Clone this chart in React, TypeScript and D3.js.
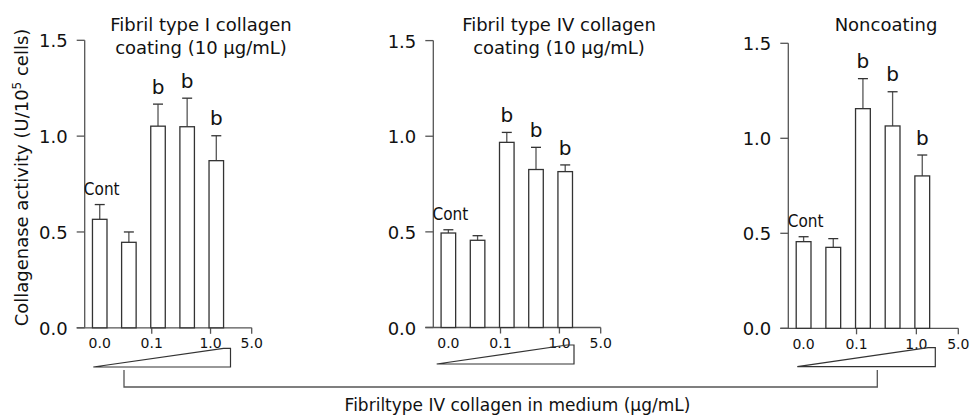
import React from "react";
import * as d3 from "d3";

// ---- data ----
const categories = ["0.0", "0.01", "0.1", "0.5", "1.0"];
const xTickLabels = ["0.0", "0.1", "1.0", "5.0"];
const yTicks = [0, 0.5, 1.0, 1.5];

const typeIMeans = [0.566, 0.446, 1.052, 1.049, 0.872];
const typeIErr = [0.077, 0.054, 0.115, 0.149, 0.13];
const typeIVMeans = [0.494, 0.456, 0.968, 0.826, 0.815];
const typeIVErr = [0.017, 0.024, 0.052, 0.116, 0.035];
const noncoatMeans = [0.456, 0.426, 1.156, 1.065, 0.802];
const noncoatErr = [0.026, 0.046, 0.158, 0.18, 0.11];
const sigLabels = ["", "", "b", "b", "b"];

const panelTitles = [
  ["Fibril type I collagen", "coating (10 \u03bcg/mL)"],
  ["Fibril type IV collagen", "coating (10 \u03bcg/mL)"],
  ["Noncoating"],
];
const xAxisTitle = "Fibriltype IV collagen in medium (\u03bcg/mL)";

const FONT = "'DejaVu Sans', Verdana, sans-serif";
const NARROW = "'Liberation Sans Narrow', 'DejaVu Sans Condensed', sans-serif";
const AX = "#555";
const BAR = "#333";

interface Layout {
  axisX: number;
  w: number;
  y0: number;
  yTop: number;
  titleX: number;
  wedgeL: number;
  wedgeR: number;
  wedgeB: number;
  wedgeT: number;
}

const layouts: Layout[] = [
  { axisX: 84.7, w: 167, y0: 327.8, yTop: 40.3, titleX: 201, wedgeL: 93.3, wedgeR: 230.5, wedgeB: 367, wedgeT: 348.3 },
  { axisX: 433.3, w: 167.4, y0: 327.5, yTop: 40.6, titleX: 559, wedgeL: 436.7, wedgeR: 574, wedgeB: 364, wedgeT: 345 },
  { axisX: 788.3, w: 170, y0: 328.3, yTop: 43.3, titleX: 886, wedgeL: 797.3, wedgeR: 935.3, wedgeB: 366.7, wedgeT: 347.7 },
];

function Panel({ lay, means, errs, title }: { lay: Layout; means: number[]; errs: number[]; title: string[] }) {
  const y = d3.scaleLinear().domain([0, 1.5]).range([lay.y0, lay.yTop]);
  const x = d3
    .scalePoint<string>()
    .domain(categories)
    .range([lay.axisX + 0.09 * lay.w, lay.axisX + 0.788 * lay.w]);
  const bw = 0.087 * lay.w;
  const cap = 5;
  const xEnd = lay.axisX + lay.w;
  const tickPos = [
    { label: xTickLabels[0], x: x(categories[0])!, mark: false },
    { label: xTickLabels[1], x: x(categories[2])! - bw / 2 + 1, mark: true },
    { label: xTickLabels[2], x: x(categories[4])! - bw / 2 + 1.5, mark: true },
    { label: xTickLabels[3], x: xEnd, mark: true },
  ];
  return (
    <g>
      {title.map((t, i) => (
        <text key={i} x={lay.titleX} y={30.7 + i * 23.6} fontSize={18} textAnchor="middle" fontFamily={FONT} fill="#111">
          {t}
        </text>
      ))}
      <line x1={lay.axisX} x2={lay.axisX} y1={y(1.5)} y2={y(0)} stroke={AX} strokeWidth={1.3} />
      {yTicks.map((t) => (
        <g key={t}>
          <line x1={lay.axisX - 8} x2={lay.axisX} y1={y(t)} y2={y(t)} stroke={AX} strokeWidth={1.3} />
          <text x={lay.axisX - 17} y={y(t) + 7} fontSize={18} textAnchor="end" fontFamily={FONT} fill="#111">
            {t.toFixed(1)}
          </text>
        </g>
      ))}
      <line x1={lay.axisX - 8} x2={xEnd} y1={y(0)} y2={y(0)} stroke={AX} strokeWidth={1.3} />
      {tickPos.map((t) => (
        <g key={t.label}>
          {t.mark && <line x1={t.x} x2={t.x} y1={y(0)} y2={y(0) + 6} stroke={AX} strokeWidth={1.3} />}
          <text x={t.x} y={y(0) + 20.5} fontSize={14} textAnchor="middle" fontFamily={FONT} fill="#111">
            {t.label}
          </text>
        </g>
      ))}
      {categories.map((c, i) => {
        const cx = x(c)!;
        const top = y(means[i] + errs[i]);
        return (
          <g key={c}>
            <line x1={cx} x2={cx} y1={y(means[i])} y2={top} stroke={AX} strokeWidth={1.3} />
            <line x1={cx - cap} x2={cx + cap} y1={top} y2={top} stroke={BAR} strokeWidth={1.3} />
            <rect x={cx - bw / 2} y={y(means[i])} width={bw} height={y(0) - y(means[i])} fill="#fff" stroke={BAR} strokeWidth={1.3} />
            {sigLabels[i] && (
              <text x={cx} y={top - 10.4} fontSize={20} textAnchor="middle" fontFamily={FONT} fill="#111">
                {sigLabels[i]}
              </text>
            )}
            {i === 0 && (
              <text x={cx + 2} y={top - 9.5} fontSize={17} textAnchor="middle" fontFamily={NARROW} fill="#111">
                Cont
              </text>
            )}
          </g>
        );
      })}
      <path
        d={`M${lay.wedgeL},${lay.wedgeB}L${lay.wedgeR - 7},${lay.wedgeT}L${lay.wedgeR},${lay.wedgeT}L${lay.wedgeR},${lay.wedgeB}Z`}
        fill="none"
        stroke={BAR}
        strokeWidth={1.2}
      />
    </g>
  );
}

export default function App() {
  const series = [
    { means: typeIMeans, errs: typeIErr },
    { means: typeIVMeans, errs: typeIVErr },
    { means: noncoatMeans, errs: noncoatErr },
  ];
  return (
    <svg width={972} height={416} style={{ position: "absolute", left: 0, top: 0, background: "#fff" }}>
      <rect width={972} height={416} fill="#fff" />
      {series.map((s, i) => (
        <Panel key={i} lay={layouts[i]} means={s.means} errs={s.errs} title={panelTitles[i]} />
      ))}
      <path d="M124,370V387H877.3V370" fill="none" stroke={AX} strokeWidth={1.3} />
      <text x={517.5} y={410.7} fontSize={17} textAnchor="middle" fontFamily={FONT} fill="#111">
        {xAxisTitle}
      </text>
      <text transform="translate(28,177.5) rotate(-90)" fontSize={18} textAnchor="middle" fontFamily={FONT} fill="#111">
        {"Collagenase activity (U/10"}
        <tspan fontSize={12} dy={-7}>5</tspan>
        <tspan dy={7}>{" cells)"}</tspan>
      </text>
    </svg>
  );
}
